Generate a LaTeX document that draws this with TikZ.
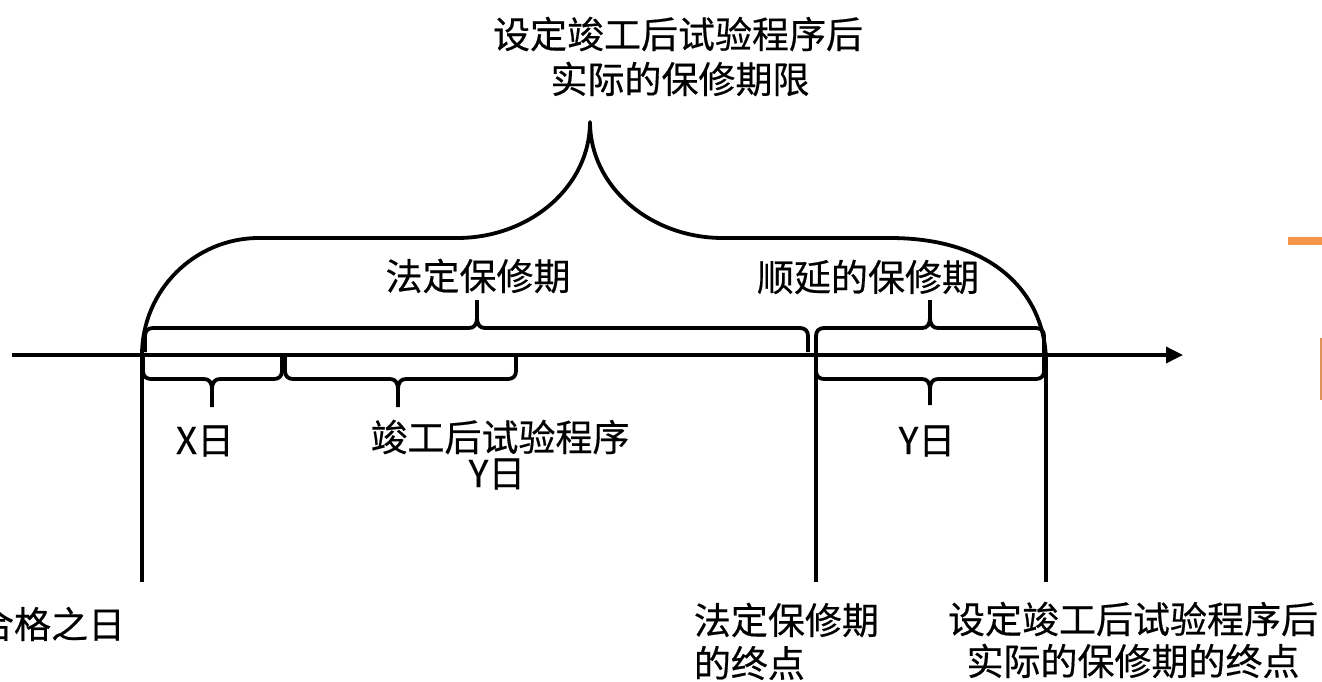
\documentclass[tikz,border=0pt]{standalone}
\usepackage{fontspec}
\setmainfont{Noto Sans CJK SC}
\newfontfamily\lblfont{Noto Sans CJK SC}[FakeBold=0.4]
\usetikzlibrary{arrows.meta}
\definecolor{barorange}{HTML}{F7964A}
\newcommand\brc[7]{%
  \draw ({#1},{#4}) -- ({#1},{#5-(#7)*8}) .. controls ({#1},{#5-(#7)*3}) and ({#1+3},{#5}) .. ({#1+8},{#5})
     -- ({#3-8},{#5}) .. controls ({#3-3},{#5}) and ({#3},{#5+(#7)*3}) .. ({#3},{#5+(#7)*11}) -- ({#3},{#6});
  \draw ({#3},{#5+(#7)*11}) .. controls ({#3},{#5+(#7)*3}) and ({#3+3},{#5}) .. ({#3+8},{#5})
     -- ({#2-8},{#5}) .. controls ({#2-3},{#5}) and ({#2},{#5-(#7)*3}) .. ({#2},{#5-(#7)*8}) -- ({#2},{#4});
}
\begin{document}
\begin{tikzpicture}[x=1pt,y=-1pt,line width=3.8pt,line join=round,
  lbl/.style={font=\lblfont\fontsize{37}{42}\selectfont,inner sep=0pt}]
\useasboundingbox (0,0) rectangle (1322,681);
\fill[white] (0,0) rectangle (1322,681);
% background marks
\fill[barorange] (1288,237) rectangle (1322,245);
\draw[line width=1.5pt,barorange!80!gray] (1321.2,338) -- (1321.2,400);
% axis
\coordinate (a0) at (12,355);
\coordinate (a1) at (1183,355);
\draw[line width=3.5pt,-{Triangle[length=17pt,width=16pt]}] (a0) -- (a1);
% vertical markers
\coordinate (v1t) at (142,355); \coordinate (v1b) at (142,582);
\coordinate (v2t) at (816,355); \coordinate (v2b) at (816,582);
\coordinate (v3t) at (1046,355); \coordinate (v3b) at (1046,582);
\draw (v1t) -- (v1b);
\draw (v2t) -- (v2b);
\draw (v3t) -- (v3b);
% big brace
\draw (142,362) -- (142,355) .. controls (142,290.4) and (194.6,238) .. (259,238)
  -- (457,238) .. controls (530.5,238) and (590,186) .. (590,122)
  .. controls (590,186) and (649.5,238) .. (723,238)
  -- (890,238) .. controls (1000,238) and (1046,300) .. (1046,362);
% small braces
\brc{143}{282}{212}{355}{379}{407}{1}
\brc{285}{516}{398}{353}{379}{407}{1}
\brc{816}{1044}{930}{353}{379}{405}{1}
\brc{145}{808}{477}{352}{328}{300}{-1}
\brc{816}{1044}{930}{372}{328}{300}{-1}
% labels
\node[lbl] (t1) at (678,34) {设定竣工后试验程序后};
\node[lbl] (t2) at (680,79) {实际的保修期限};
\node[lbl] (fd) at (478,276) {法定保修期};
\node[lbl] (sy) at (868,277) {顺延的保修期};
\node[lbl] (xd) at (205,441) {X日};
\node[lbl] (jg1) at (500,437) {竣工后试验程序};
\node[lbl] (jg2) at (497,474) {Y日};
\node[lbl] (yd) at (927,441) {Y日};
\node[lbl,anchor=east] (hg) at (127,624) {合格之日};
\node[lbl,anchor=west] (fz1) at (692,620) {法定保修期};
\node[lbl,anchor=west] (fz2) at (692,663) {的终点};
\node[lbl] (sj1) at (1133,619) {设定竣工后试验程序后};
\node[lbl] (sj2) at (1133,661) {实际的保修期的终点};
\end{tikzpicture}
\end{document}
